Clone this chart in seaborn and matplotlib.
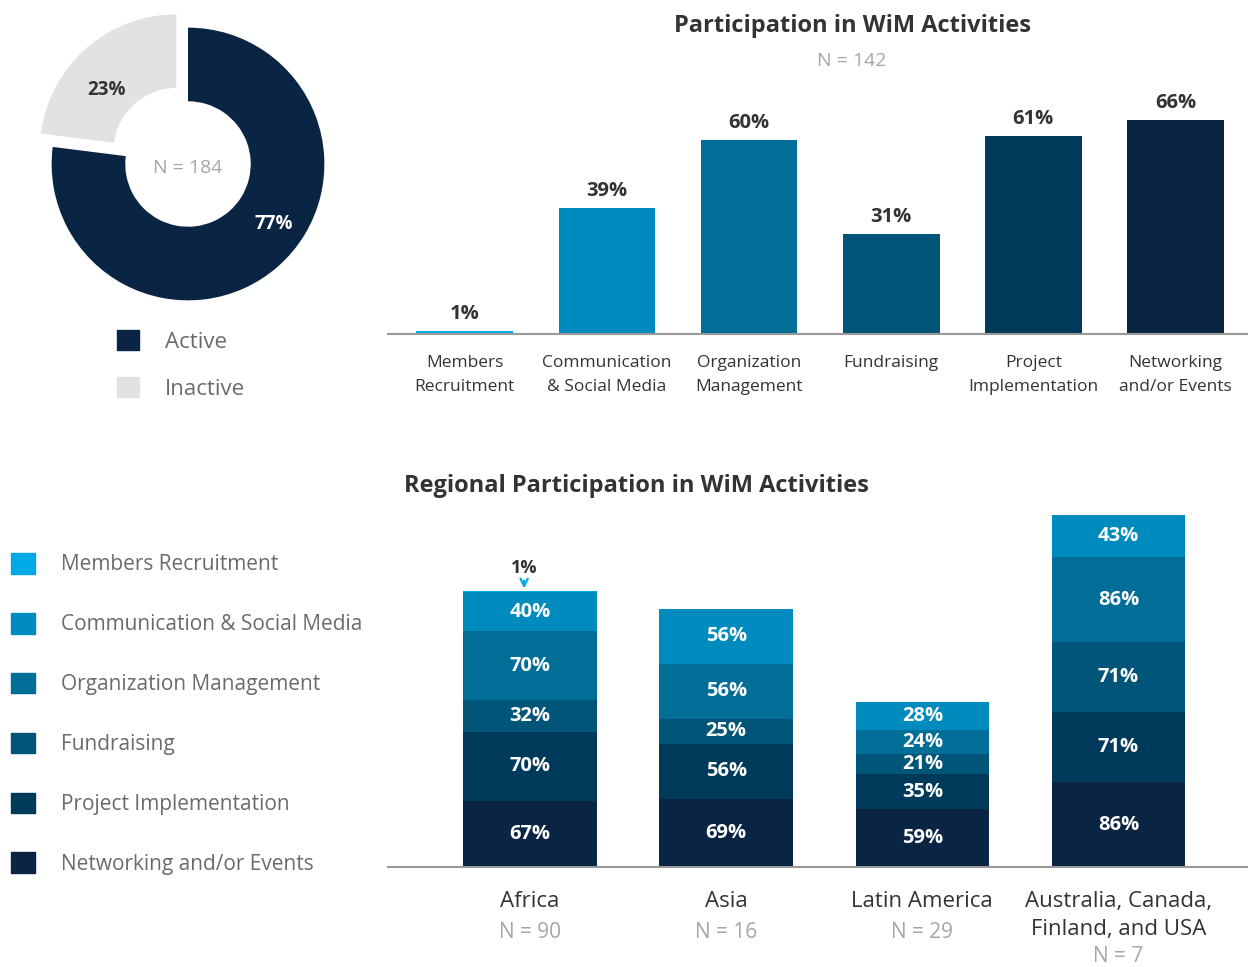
import matplotlib
matplotlib.use("Agg")
import matplotlib.pyplot as plt
from matplotlib.patches import Patch
from matplotlib import transforms
import seaborn as sns
import numpy as np

# ---------------- data ----------------
status_labels = ["Active", "Inactive"]
status_values = [77, 23]
status_n = 184

activities = ["Members\nRecruitment", "Communication\n& Social Media", "Organization\nManagement",
              "Fundraising", "Project\nImplementation", "Networking\nand/or Events"]
activity_legend = ["Members Recruitment", "Communication & Social Media", "Organization Management",
                   "Fundraising", "Project Implementation", "Networking and/or Events"]
overall_values = [1, 39, 60, 31, 61, 66]
overall_n = 142

regions = ["Africa", "Asia", "Latin America", "Australia, Canada,\nFinland, and USA"]
region_n = [90, 16, 29, 7]
members_r = [1, 0, 0, 0]
comm_r = [40, 56, 28, 43]
org_r = [70, 56, 24, 86]
fund_r = [32, 25, 21, 71]
proj_r = [70, 56, 35, 71]
net_r = [67, 69, 59, 86]

# ---------------- style ----------------
C_MEM, C_COMM, C_ORG, C_FUND, C_PROJ, C_NET = "#00A9E6", "#008BBF", "#006E97", "#005578", "#003A5A", "#0A2444"
C_INACT = "#E2E2E2"
act_colors = [C_MEM, C_COMM, C_ORG, C_FUND, C_PROJ, C_NET]

sns.set_theme(style="white")
plt.rcParams["font.family"] = ["Open Sans", "DejaVu Sans"]

W, H = 1248, 967
fig = plt.figure(figsize=(W / 100, H / 100), dpi=100)


def rect(x0, y0, x1, y1):
    return [x0 / W, 1 - y1 / H, (x1 - x0) / W, (y1 - y0) / H]


def fx(px):
    return px / W


def fy(py):
    return 1 - py / H


DARK = "#333333"
GRAY = "#A6A6A6"
MID = "#6B6B6B"

# ---------------- donut ----------------
axd = fig.add_axes(rect(38, 14, 338, 314))
wedges, _ = axd.pie(status_values, colors=[C_NET, C_INACT], startangle=90, counterclock=False,
                    explode=[0, 0.13], radius=1.0, wedgeprops=dict(width=0.54, linewidth=0))
axd.set_xlim(-1.1, 1.1)
axd.set_ylim(-1.1, 1.1)
axd.set_aspect("equal")
axd.axis("off")
axd.text(0, -0.03, f"N = {status_n}", ha="center", va="center", color=GRAY, fontsize=14)
axd.text(0.63, -0.44, f"{status_values[0]}%", ha="center", va="center", color="white", fontsize=13.5, fontweight="bold")
axd.text(-0.6, 0.54, f"{status_values[1]}%", ha="center", va="center", color=DARK, fontsize=13.5, fontweight="bold")

leg1 = fig.legend(handles=[Patch(color=C_NET), Patch(color=C_INACT)], labels=status_labels,
                  loc="upper left", bbox_to_anchor=(fx(117), fy(330)), frameon=False,
                  fontsize=16, handlelength=1.0, handleheight=1.0, handletextpad=1.15,
                  labelspacing=1.1, borderpad=0, borderaxespad=0)
for t in leg1.get_texts():
    t.set_color(MID)

# ---------------- top bar chart ----------------
axb = fig.add_axes(rect(388, 80, 1248, 334))
sns.barplot(x=activities, y=overall_values, hue=activities, palette=act_colors, legend=False,
            width=0.68, saturation=1, ax=axb, order=activities, hue_order=activities,
            linewidth=0, edgecolor="none")
axb.set_ylim(0, 78.4)
axb.set_xlim(-0.54, 5.51)
for c in axb.containers:
    axb.bar_label(c, fmt="%d%%", padding=5, fontsize=14.5, fontweight="bold", color=DARK)
axb.set_yticks([])
axb.set_ylabel("")
axb.set_xlabel("")
sns.despine(ax=axb, left=True)
axb.spines["bottom"].set_color("#999999")
axb.spines["bottom"].set_linewidth(1.5)
axb.tick_params(axis="x", length=0, pad=15)
for lbl in axb.get_xticklabels():
    lbl.set_fontsize(12.5)
    lbl.set_color(DARK)
    lbl.set_linespacing(1.72)
    lbl.set_verticalalignment("top")

fig.text(fx(852), fy(26), "Participation in WiM Activities", ha="center", va="center",
         fontsize=17, fontweight="bold", color=DARK)
fig.text(fx(852), fy(61), f"N = {overall_n}", ha="center", va="center",
         fontsize=14, color=GRAY)

# ---------------- stacked bar chart ----------------
axs = fig.add_axes(rect(388, 510, 1248, 867))
layers = [net_r, proj_r, fund_r, org_r, comm_r, members_r]
layer_colors = [C_NET, C_PROJ, C_FUND, C_ORG, C_COMM, C_MEM]
cums = np.cumsum(np.array(layers), axis=0)
for k in range(len(layers) - 1, -1, -1):
    sns.barplot(x=regions, y=cums[k], order=regions, color=layer_colors[k], width=0.68,
                saturation=1, ax=axs, linewidth=0, edgecolor="none")
axs.set_ylim(0, 362)
axs.set_xlim(-0.724, 3.66)
for k in range(len(layers) - 1):
    for i in range(len(regions)):
        v = layers[k][i]
        if v <= 0:
            continue
        bottom = cums[k][i] - v
        axs.text(i, bottom + v / 2, f"{v}%", ha="center", va="center", color="white",
                 fontsize=14.5, fontweight="bold")
for i in range(len(regions)):
    v = members_r[i]
    if v > 0:
        axs.annotate(f"{v}%", xy=(i - 0.03, cums[-1][i] + 1), xytext=(0, 9), textcoords="offset points",
                     ha="center", va="bottom", fontsize=13, fontweight="bold", color=DARK,
                     arrowprops=dict(arrowstyle="->", color=C_MEM, lw=1.6, shrinkA=0, shrinkB=1))
axs.set_yticks([])
axs.set_ylabel("")
axs.set_xlabel("")
axs.set_xticks(range(len(regions)))
axs.set_xticklabels([])
axs.tick_params(axis="x", length=0)
sns.despine(ax=axs, left=True)
axs.spines["bottom"].set_color("#999999")
axs.spines["bottom"].set_linewidth(1.5)

trans = transforms.blended_transform_factory(axs.transData, fig.transFigure)
for i, (r, n) in enumerate(zip(regions, region_n)):
    nlines = r.count("\n") + 1
    axs.text(i, fy(891), r, transform=trans, ha="center", va="top", fontsize=16, color=DARK,
             linespacing=1.42)
    axs.text(i, fy(932 + 25 * (nlines - 1)), f"N = {n}", transform=trans, ha="center", va="center",
             fontsize=15, color=GRAY)

fig.text(fx(404), fy(486), "Regional Participation in WiM Activities", ha="left", va="center",
         fontsize=17, fontweight="bold", color=DARK)

leg2 = fig.legend(handles=[Patch(color=c) for c in act_colors], labels=activity_legend,
                  loc="upper left", bbox_to_anchor=(fx(11), fy(553)), frameon=False,
                  fontsize=15, handlelength=1.15, handleheight=1.15, handletextpad=1.25,
                  labelspacing=1.8, borderpad=0, borderaxespad=0)
for t in leg2.get_texts():
    t.set_color(MID)

fig.savefig("out.png", dpi=100)
